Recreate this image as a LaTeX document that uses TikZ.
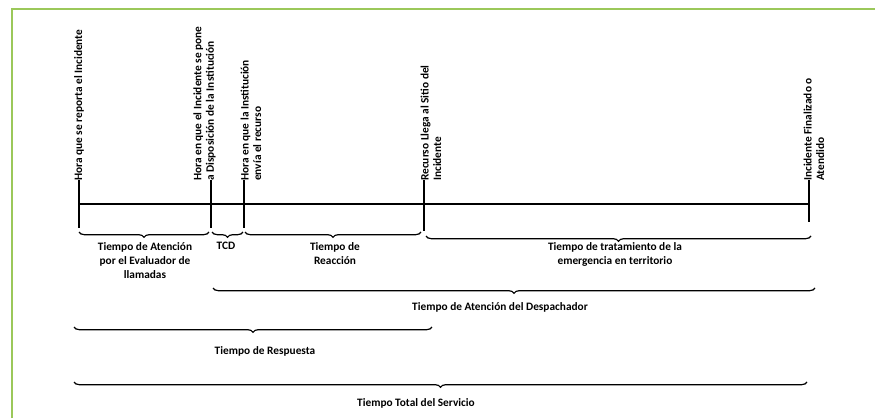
\documentclass[tikz,border=0pt]{standalone}
\usepackage{fontspec}
\setmainfont{Carlito}
\usetikzlibrary{decorations.pathreplacing, %for braces
                positioning}
\definecolor{framegreen}{RGB}{155,200,90}

\begin{document}
\begin{tikzpicture}[x=0.75pt, y=-0.75pt,
    Event/.style={rotate=90, anchor=west, inner sep=0pt, align=left,
                  font=\fontsize{8.5}{9.4}\selectfont\bfseries},
    Span/.style={anchor=north, inner sep=0pt, align=center,
                 font=\fontsize{8.5}{10.5}\selectfont\bfseries},
    Brace/.style={decorate, decoration={brace, mirror, amplitude=4pt}, line width=0.9pt}
    ]
    \useasboundingbox (0,0) rectangle (875,418);

    %frame
    \draw[framegreen, line width=1.5pt] (12,418) -- (12,9) -- (875,9);

    %events on the timeline
    \foreach \n/\x/\b in {0/79/228, 1/211/228, 2/244/228, 3/424/231, 4/809/222}{
        \coordinate (T\n) at (\x,204);
        \draw[line width=1.1pt] (\x,180) -- (\x,\b);
    }
    \draw[line width=1.1pt] (T0) -- (T4);

    %event labels
    \node[Event] (E0) at (79,181)    {Hora que se reporta el Incidente};
    \node[Event] (E1) at (204.5,181) {Hora en que el Incidente se pone\\a Disposición de la Institución};
    \node[Event] (E2) at (251,181)   {Hora en que la Institución\\envía el recurso};
    \node[Event] (E3) at (431,181)   {Recurso Llega al Sitio del\\Incidente};
    \node[Event] (E4) at (814,181)   {Incidente Finalizado o\\Atendido};

    %braces below the events
    \draw[Brace] (79,232)  -- (209,232);
    \draw[Brace] (212,232) -- (243,232);
    \draw[Brace] (245,232) -- (421,232);
    \draw[Brace] (426,236) -- (811,236);
    \draw[Brace] (213,288) -- (815,288);
    \draw[Brace] (74,327)  -- (432,327);
    \draw[Brace] (74,382)  -- (807,382);

    %span labels
    \node[Span] (S0) at (145,242) {Tiempo de Atención\\por el Evaluador de\\llamadas};
    \node[Span] (S1) at (226,242) {TCD};
    \node[Span] (S2) at (335,242) {Tiempo de\\Reacción};
    \node[Span] (S3) at (615,242) {Tiempo de tratamiento de la\\emergencia en territorio};
    \node[Span] (S4) at (500,302) {Tiempo de Atención del Despachador};
    \node[Span] (S5) at (265,346) {Tiempo de Respuesta};
    \node[Span] (S6) at (416,398) {Tiempo Total del Servicio};
\end{tikzpicture}
\end{document}
